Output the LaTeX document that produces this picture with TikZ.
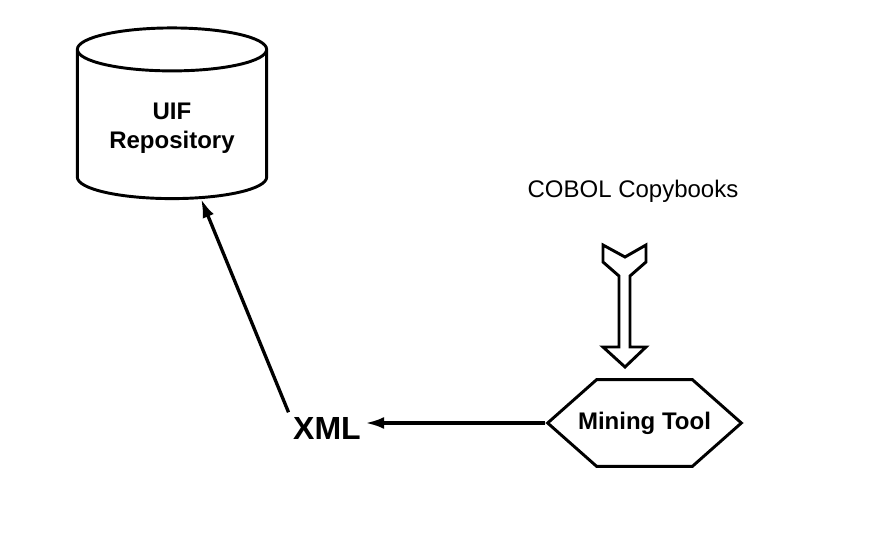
\documentclass[tikz,border=0pt]{standalone}
\usepackage{fontspec}
\setmainfont{Liberation Sans}
\usepackage{tikz}
\usetikzlibrary{shapes,arrows,arrows.meta,positioning}
\usetikzlibrary{shapes.geometric}
\usetikzlibrary{shapes.symbols}
\begin{document}
\begin{tikzpicture}[x=0.75pt,y=-0.75pt]
		\useasboundingbox (0,0) rectangle (872,552);
		\node[draw,line width=2.2pt,cylinder,shape border rotate=90,aspect=0.32,minimum width=142pt,minimum height=128pt,align=center,font=\bfseries\fontsize{18}{22}\selectfont] (repo) at (172,128) {UIF\\Repository};
		\node[draw,line width=2.2pt,signal,signal to=east and west,signal pointer angle=83,inner xsep=-13.9pt,minimum height=65pt,font=\bfseries\fontsize{18}{22}\selectfont] (mine) at (644.5,423) {Mining Tool};
		\node[font=\bfseries\fontsize{24}{28}\selectfont] (xml) at (327,428) {XML};
		\node[font=\fontsize{18}{22}\selectfont] (cobol) at (633,191) {COBOL Copybooks};
		\draw [-{Latex[length=14pt,width=9pt]},line width=2.5pt] (mine.west) -- (mine.west -| xml.east);
		\draw [-{Latex[length=14pt,width=9pt]},line width=2.5pt] (xml.north west) -- (repo);
		\draw [line width=2.2pt,fill=white] (603,245) -- (603,262) -- (619,276) -- (619,347) -- (603,347) -- (625,367) -- (646,347) -- (630,347) -- (630,276) -- (646,262) -- (646,245) -- (625,257) -- cycle;
	\end{tikzpicture}
\end{document}
